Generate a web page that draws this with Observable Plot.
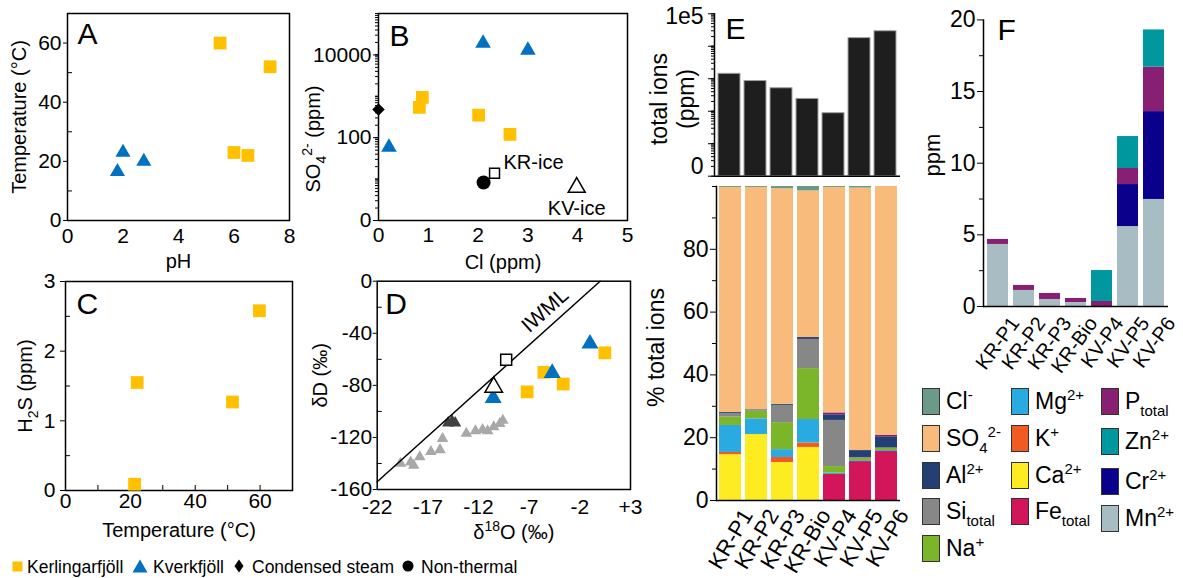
<!DOCTYPE html>
<html>
<head>
<meta charset="utf-8">
<title>Geochemistry panels A–F</title>
<script src="https://cdn.jsdelivr.net/npm/d3@7"></script>
<script src="https://cdn.jsdelivr.net/npm/@observablehq/plot@0.6"></script>
<style>
  html, body { margin: 0; padding: 0; background: #ffffff; }
  #fig { position: relative; width: 1183px; height: 578px; overflow: hidden; background: #ffffff;
         font-family: "Liberation Sans", Arial, Helvetica, sans-serif; color: #000; }
  .lgtext { position: absolute; white-space: nowrap; }
  .sw { position: absolute; width: 18px; height: 27px; box-sizing: border-box; border: 1.5px solid #333; }
  .sub, .sup { font-size: 15px; line-height: 0; position: relative; }
  .sub { top: 7px; }
  .sup { top: -9px; }
</style>
</head>
<body>
<div id="fig"></div>
<script>
// ================= DATA =================
// Panel A: temperature (°C) vs pH
const aKerPH = [5.5, 7.3, 6.0, 6.5];
const aKerT  = [60, 52, 23, 22];
const aKvPH  = [1.8, 2.0, 2.75];
const aKvT   = [16.5, 23, 20];

// Panel B: SO4 (ppm, log) vs Cl (ppm)
const bKerCl  = [0.88, 0.82, 2.01, 2.64];
const bKerSO4 = [940, 540, 350, 120];
const bKvCl   = [2.1, 3.0, 0.21];
const bKvSO4  = [19000, 13000, 59];
const bSteamCl  = [0];
const bSteamSO4 = [480];
const bNonCl  = [2.11];
const bNonSO4 = [8.3];
const bKRiceCl  = [2.33];
const bKRiceSO4 = [13.9];
const bKViceCl  = [3.98];
const bKViceSO4 = [6.3];

// Panel C: H2S (ppm) vs temperature (°C)
const cKerT   = [21.3, 22.1, 51.5, 59.8];
const cKerH2S = [0.09, 1.55, 1.27, 2.58];

// Panel D: δD vs δ18O (‰)
const dKerO = [0.47, -5.55, -3.64, -7.2];
const dKerD = [-55, -70, -79, -85];
const dKvO  = [-1.0, -4.73, -10.55];
const dKvD  = [-48, -70.6, -89.8];
const dKRiceO = [-9.27];
const dKRiceD = [-60.4];
const dKViceO = [-10.5];
const dKViceD = [-81.4];
const dLitO = [-19.7, -18.7, -18.4, -17.8, -16.7, -15.8, -15.55, -13.2, -12.3, -11.6, -11.1, -10.5, -9.9, -9.6];
const dLitD = [-140, -139, -141.5, -135, -131, -129.5, -121, -117, -115, -114, -115, -112, -109.5, -107];
const dDarkO = [-15.0, -14.6, -14.3];
const dDarkD = [-109, -107.5, -109];
const iwmlO = [-22, 0];
const iwmlD = [-154, 0];

// Panel E / F: samples
const samples = ["KR-P1", "KR-P2", "KR-P3", "KR-Bio", "KV-P4", "KV-P5", "KV-P6"];
const totalIons = [1420, 850, 510, 240, 87, 17800, 29000];   // ppm (log axis)

// % of total ions
const pctFe  = [0, 0, 0, 0, 8.3, 12.4, 15.6];
const pctCa  = [14.6, 21.0, 12.1, 16.9, 0, 0, 0];
const pctK   = [0.7, 0, 1.6, 1.4, 0, 0, 0];
const pctMg  = [8.6, 5.0, 2.5, 7.5, 0.4, 0.3, 0.3];
const pctNa  = [2.7, 2.4, 8.6, 16.2, 2.1, 0.7, 0.8];
const pctSi  = [1.0, 0.3, 5.5, 9.3, 14.7, 0.3, 0];
const pctAl  = [0.4, 0.2, 0.3, 0.6, 1.8, 2.2, 3.6];
const pctP   = [0, 0, 0, 0, 0.6, 0, 0.4];
const pctSO4 = [71.7, 70.8, 68.7, 46.7, 71.8, 83.6, 79.3];
const pctCl  = [0.3, 0.3, 0.7, 1.4, 0.3, 0.5, 0];

// trace elements, ppm
const ppmMn = [4.33, 1.12, 0.49, 0.28, 0, 5.58, 7.47];
const ppmCr = [0, 0, 0, 0, 0, 2.93, 6.13];
const ppmP  = [0.35, 0.35, 0.42, 0.28, 0.35, 1.12, 3.1];
const ppmZn = [0, 0, 0, 0, 2.16, 2.23, 2.6];

// ions, colours and legend labels
const ionNames  = ["Cl", "SO4", "Al", "Si", "Na", "Mg", "K", "Ca", "Fe", "P", "Zn", "Cr", "Mn"];
const ionColors = ["#6b9a88", "#f8bb7b", "#243f73", "#878787", "#7bb52a", "#29aae1", "#f15a23", "#fcec21", "#d3155a", "#871f72", "#00989e", "#0b008b", "#a7bcc3"];
const ionLabels = ["Cl<span class='sup'>-</span>", "SO<span class='sub'>4</span><span class='sup'>2-</span>",
  "Al<span class='sup'>2+</span>", "Si<span class='sub'>total</span>", "Na<span class='sup'>+</span>",
  "Mg<span class='sup'>2+</span>", "K<span class='sup'>+</span>", "Ca<span class='sup'>2+</span>",
  "Fe<span class='sub'>total</span>", "P<span class='sub'>total</span>", "Zn<span class='sup'>2+</span>",
  "Cr<span class='sup'>2+</span>", "Mn<span class='sup'>2+</span>"];

// site legend
const siteNames = ["Kerlingarfjöll", "Kverkfjöll", "Condensed steam", "Non-thermal"];

// ================= STYLE =================
const FONT = "'Liberation Sans', Arial, Helvetica, sans-serif";
const GOLD = "#ffc000", BLUE = "#0070c0", LIGHTGRAY = "#a8a8a8", DARKGRAY = "#404040";
const fig = document.getElementById("fig");

function put(node, left, top) {
  node.style.position = "absolute";
  node.style.left = left + "px";
  node.style.top = top + "px";
  node.style.overflow = "visible";
  node.style.maxWidth = "none";
  fig.appendChild(node);
  return node;
}
function sty(fs) {
  return {"font-family": FONT, "font-size": fs + "px", "background": "transparent", "color": "#000", "overflow": "visible"};
}
function letter(ch, dx, dy) {
  return Plot.text([ch], {frameAnchor: "top-left", textAnchor: "start", lineAnchor: "top", dx, dy, fontSize: 30});
}
function xTitle(t, dx, dy, fs) {
  return Plot.text([t], {frameAnchor: "bottom", textAnchor: "middle", lineAnchor: "middle", dx, dy, fontSize: fs});
}
function yTitle(t, dx, dy, fs, extra) {
  return Plot.text([t], Object.assign({frameAnchor: "left", textAnchor: "middle", lineAnchor: "middle", rotate: -90, dx, dy, fontSize: fs}, extra || {}));
}
const richMap = {
  "SO42- (ppm)": 'SO<tspan dy="6" font-size="14">4</tspan><tspan dy="-14" font-size="14">2-</tspan><tspan dy="8"> (ppm)</tspan>',
  "H2S (ppm)": 'H<tspan dy="6" font-size="14">2</tspan><tspan dy="-6">S (ppm)</tspan>',
  "δ18O (‰)": 'δ<tspan dy="-8" font-size="14">18</tspan><tspan dy="8">O (‰)</tspan>'
};
function rich(svg) {
  svg.querySelectorAll("text").forEach(t => {
    const k = t.textContent;
    if (richMap[k]) t.innerHTML = richMap[k];
  });
  return svg;
}
const logMinor = [];
[1, 10, 100, 1000, 10000].forEach(b => { for (let m = 1; m <= 10; m++) logMinor.push(b * m); });
const plain = d => String(d);

// ================= PANEL A =================
put(rich(Plot.plot({
  width: 300, height: 275, marginTop: 13, marginRight: 11, marginBottom: 55, marginLeft: 67,
  style: sty(21),
  x: {domain: [0, 8]},
  y: {domain: [0, 70]},
  marks: [
    Plot.frame({strokeWidth: 1.5}),
    Plot.axisX({ticks: [0, 2, 4, 6, 8], tickFormat: plain, tickSize: 0, tickPadding: 8, label: null}),
    Plot.axisY({ticks: [0, 20, 40, 60], tickFormat: plain, tickSize: 4, tickPadding: 2, label: null}),
    Plot.axisY({ticks: [10, 30, 50], tickSize: 5, dx: 5, fill: "none"}),
    Plot.dot(aKvT, {x: aKvPH, y: aKvT, symbol: "triangle", r: 5.6, fill: BLUE}),
    Plot.dot(aKerT, {x: aKerPH, y: aKerT, symbol: "square", r: 7.2, fill: GOLD}),
    letter("A", 10, 9),
    xTitle("pH", 0, 41, 20),
    yTitle("Temperature (°C)", -48, 0, 20)
  ]
})), 0, 0);

// ================= PANEL B =================
put(rich(Plot.plot({
  width: 340, height: 275, marginTop: 13, marginRight: 13, marginBottom: 55, marginLeft: 78,
  style: sty(21),
  x: {domain: [0, 5]},
  y: {type: "log", domain: [1, 1e5]},
  marks: [
    Plot.frame({strokeWidth: 1.5}),
    Plot.axisX({ticks: [0, 1, 2, 3, 4, 5], tickFormat: plain, tickSize: 0, tickPadding: 7, label: null}),
    Plot.axisY({ticks: logMinor, tickSize: 3, fill: "none"}),
    Plot.axisY({ticks: [1, 100, 10000], tickSize: 5, tickPadding: 2, tickFormat: d => d === 1 ? "0" : String(d), label: null}),
    Plot.dot(bKvSO4, {x: bKvCl, y: bKvSO4, symbol: "triangle", r: 5.8, fill: BLUE}),
    Plot.dot(bKerSO4, {x: bKerCl, y: bKerSO4, symbol: "square", r: 7.2, fill: GOLD}),
    Plot.dot(bSteamSO4, {x: bSteamCl, y: bSteamSO4, symbol: "square", rotate: 45, r: 5.0, fill: "#000"}),
    Plot.dot(bNonSO4, {x: bNonCl, y: bNonSO4, symbol: "circle", r: 7, fill: "#000"}),
    Plot.dot(bKRiceSO4, {x: bKRiceCl, y: bKRiceSO4, symbol: "square", r: 5.6, fill: "#fff", stroke: "#000", strokeWidth: 1.5}),
    Plot.dot(bKViceSO4, {x: bKViceCl, y: bKViceSO4, symbol: "triangle", r: 6.3, fill: "#fff", stroke: "#000", strokeWidth: 1.5}),
    Plot.text(["KR-ice"], {x: bKRiceCl, y: bKRiceSO4, dx: 9, dy: -11, textAnchor: "start", fontSize: 20}),
    Plot.text(["KV-ice"], {x: bKViceCl, y: bKViceSO4, dy: 21, fontSize: 20}),
    letter("B", 11, 11),
    xTitle("Cl (ppm)", 0, 42, 20),
    yTitle("SO42- (ppm)", -65, 22, 20)
  ]
})), 300, 0);

// ================= PANEL C =================
put(rich(Plot.plot({
  width: 300, height: 290, marginTop: 11, marginRight: 8, marginBottom: 70, marginLeft: 65,
  style: sty(21),
  x: {domain: [0, 70]},
  y: {domain: [0, 3]},
  marks: [
    Plot.frame({strokeWidth: 1.5}),
    Plot.axisX({ticks: [0, 20, 40, 60], tickFormat: plain, tickSize: 0, tickPadding: 3, label: null}),
    Plot.axisX({ticks: [10, 20, 30, 40, 50, 60], tickSize: 5, dy: -5, fill: "none"}),
    Plot.axisY({ticks: [0, 1, 2, 3], tickFormat: plain, tickSize: 5, tickPadding: 5, label: null}),
    Plot.axisY({ticks: [0.5, 1.5, 2.5], tickSize: 5, dx: 5, fill: "none"}),
    Plot.dot(cKerH2S, {x: cKerT, y: cKerH2S, symbol: "square", r: 7.2, fill: GOLD}),
    letter("C", 11, 11),
    xTitle("Temperature (°C)", 0, 40, 20),
    yTitle("H2S (ppm)", -40, 0, 20)
  ]
})), 0, 270);

// ================= PANEL D =================
put(rich(Plot.plot({
  width: 340, height: 280, marginTop: 10.7, marginRight: 10, marginBottom: 61, marginLeft: 76.7,
  style: sty(21),
  x: {domain: [-22, 3]},
  y: {domain: [-160, 0]},
  marks: [
    Plot.frame({strokeWidth: 1.5}),
    Plot.axisX({ticks: [-22, -17, -12, -7, -2, 3], tickFormat: d => d > 0 ? "+" + d : String(d), tickSize: 0, tickPadding: 10, label: null}),
    Plot.axisY({ticks: [0, -40, -80, -120, -160], tickFormat: plain, tickSize: 4, tickPadding: 1, label: null}),
    Plot.axisY({ticks: [-20, -60, -100, -140], tickSize: 5, dx: 5, fill: "none"}),
    Plot.dot(dLitD, {x: dLitO, y: dLitD, symbol: "triangle", r: 4.3, fill: LIGHTGRAY}),
    Plot.dot(dDarkD, {x: dDarkO, y: dDarkD, symbol: "triangle", r: 4.5, fill: DARKGRAY}),
    Plot.line(iwmlD, {x: iwmlO, y: iwmlD, stroke: "#000", strokeWidth: 1.5}),
    Plot.text(["IWML"], {x: [iwmlO[1]], y: [iwmlD[1]], dx: -55, dy: 29, rotate: -42, fontSize: 21}),
    Plot.dot(dKerD, {x: dKerO, y: dKerD, symbol: "square", r: 7.2, fill: GOLD}),
    Plot.dot(dKvD, {x: dKvO, y: dKvD, symbol: "triangle", r: 6.3, fill: BLUE}),
    Plot.dot(dKRiceD, {x: dKRiceO, y: dKRiceD, symbol: "square", r: 6.2, fill: "#fff", stroke: "#000", strokeWidth: 1.5}),
    Plot.dot(dKViceD, {x: dKViceO, y: dKViceD, symbol: "triangle", r: 6.5, fill: "#fff", stroke: "#000", strokeWidth: 1.5}),
    letter("D", 8, 11),
    xTitle("δ18O (‰)", 10, 43, 20),
    yTitle("δD (‰)", -57, -10, 20)
  ]
})), 300, 270);

// ================= PANEL E (top: total ions) =================
put(Plot.plot({
  width: 260, height: 180, marginTop: 13.3, marginRight: 0, marginBottom: 4.3, marginLeft: 74,
  style: sty(23),
  x: {domain: samples, paddingInner: 0.156, paddingOuter: 0.08, axis: null},
  y: {type: "log", domain: [1, 1e5]},
  marks: [
    Plot.barY(samples, {x: samples, y1: 1, y2: totalIons, fill: "#1e1e1e", stroke: "#a0a0a0", strokeWidth: 1}),
    Plot.axisY({ticks: logMinor, tickSize: 3, fill: "none"}),
    Plot.axisY({ticks: [1, 10, 100, 1000, 10000, 100000], tickSize: 6, fill: "none"}),
    Plot.axisY({ticks: [100000], tickSize: 0, tickPadding: 11, dy: 3, tickFormat: () => "1e5", label: null}),
    Plot.axisY({ticks: [1], tickSize: 0, tickPadding: 11, dy: -10, tickFormat: () => "0", label: null}),
    Plot.ruleY([1], {strokeWidth: 1.5}),
    Plot.frame({anchor: "left", strokeWidth: 1.5}),
    letter("E", 11, 4),
    yTitle("total ions\n(ppm)", -43, 4, 23, {lineHeight: 1.2})
  ]
}), 640, 0);

// ================= PANEL E (bottom: % total ions) =================
const eOrder = ["Fe", "Ca", "K", "Mg", "Na", "Si", "Al", "P", "SO4", "Cl"];
const pctBy = {Fe: pctFe, Ca: pctCa, K: pctK, Mg: pctMg, Na: pctNa, Si: pctSi, Al: pctAl, P: pctP, SO4: pctSO4, Cl: pctCl};
const pctData = eOrder.flatMap(ion => samples.map((s, i) => ({sample: s, ion, value: pctBy[ion][i]})));

put(Plot.plot({
  width: 260, height: 398, marginTop: 6, marginRight: 0, marginBottom: 78, marginLeft: 76,
  style: sty(23),
  x: {domain: samples, paddingInner: 0.156, paddingOuter: 0.04},
  y: {domain: [0, 100]},
  color: {domain: ionNames, range: ionColors},
  marks: [
    Plot.barY(pctData, {x: "sample", y: "value", fill: "ion", order: eOrder}),
    Plot.axisY({ticks: [0, 20, 40, 60, 80], tickFormat: plain, tickSize: 6, tickPadding: 2, label: null}),
    Plot.axisY({ticks: [10, 30, 50, 70, 90, 100], tickSize: 4, fill: "none"}),
    Plot.axisX({tickSize: 0, tickRotate: -59, tickPadding: 11, dx: 17, fontSize: 22, label: null}),
    Plot.ruleY([0], {strokeWidth: 1.5}),
    Plot.frame({anchor: "left", strokeWidth: 1.5}),
    yTitle("% total ions", -60, 4, 23)
  ]
}), 640, 180);

// ================= PANEL F =================
const fOrder = ["Mn", "Cr", "P", "Zn"];
const ppmBy = {Mn: ppmMn, Cr: ppmCr, P: ppmP, Zn: ppmZn};
const ppmData = fOrder.flatMap(ion => samples.map((s, i) => ({sample: s, ion, value: ppmBy[ion][i]})));

put(Plot.plot({
  width: 293, height: 370, marginTop: 19.4, marginRight: 15, marginBottom: 64, marginLeft: 93,
  style: sty(23),
  x: {domain: samples, paddingInner: 0.2, paddingOuter: 0.13},
  y: {domain: [0, 20]},
  color: {domain: ionNames, range: ionColors},
  marks: [
    Plot.barY(ppmData, {x: "sample", y: "value", fill: "ion", order: fOrder}),
    Plot.axisY({ticks: [0, 5, 10, 15, 20], tickFormat: plain, tickSize: 6, tickPadding: 2, label: null}),
    Plot.axisY({ticks: [2.5, 7.5, 12.5, 17.5], tickSize: 4, fill: "none"}),
    Plot.axisX({tickSize: 0, tickRotate: -54, tickPadding: 13, dx: 17, fontSize: 20, label: null}),
    Plot.ruleY([0], {strokeWidth: 1.5}),
    Plot.frame({anchor: "left", strokeWidth: 1.5}),
    letter("F", 14, -1),
    yTitle("ppm", -51, -8, 22)
  ]
}), 890, 0);

// ================= LEGEND (ions) =================
const legendCols = [
  {left: 922, tops: [388, 425, 462, 498, 535], ions: ["Cl", "SO4", "Al", "Si", "Na"]},
  {left: 1011, tops: [388, 425, 462, 498], ions: ["Mg", "K", "Ca", "Fe"]},
  {left: 1101, tops: [388, 428, 468, 505], ions: ["P", "Zn", "Cr", "Mn"]}
];
legendCols.forEach(col => {
  col.ions.forEach((ion, j) => {
    const k = ionNames.indexOf(ion);
    const sw = document.createElement("div");
    sw.className = "sw";
    sw.style.background = ionColors[k];
    put(sw, col.left, col.tops[j]);
    const tx = document.createElement("div");
    tx.className = "lgtext";
    tx.style.fontSize = "23px";
    tx.style.lineHeight = "27px";
    tx.innerHTML = ionLabels[k];
    put(tx, col.left + 24, col.tops[j]);
  });
});

// ================= LEGEND (sites) =================
const siteSymbols = [
  '<svg width="11" height="11"><rect x="0.5" y="0.5" width="10" height="10" fill="' + GOLD + '"/></svg>',
  '<svg width="16" height="14"><path d="M8,0.5 L15.5,13.5 L0.5,13.5 Z" fill="' + BLUE + '"/></svg>',
  '<svg width="10" height="14"><path d="M5,0.5 L9.5,7 L5,13.5 L0.5,7 Z" fill="#000"/></svg>',
  '<svg width="12" height="12"><circle cx="6" cy="6" r="5.5" fill="#000"/></svg>'
];
const siteSymLeft = [12, 132, 234, 402];
const siteSymTop = [561, 559, 559, 560];
const siteTextLeft = [27, 153, 252, 421];
siteNames.forEach((name, i) => {
  const s = document.createElement("div");
  s.innerHTML = siteSymbols[i];
  s.style.lineHeight = "0";
  put(s, siteSymLeft[i], siteSymTop[i]);
  const t = document.createElement("div");
  t.className = "lgtext";
  t.style.fontSize = "17.5px";
  t.style.lineHeight = "20px";
  t.textContent = name;
  put(t, siteTextLeft[i], 557);
});
</script>
</body>
</html>
